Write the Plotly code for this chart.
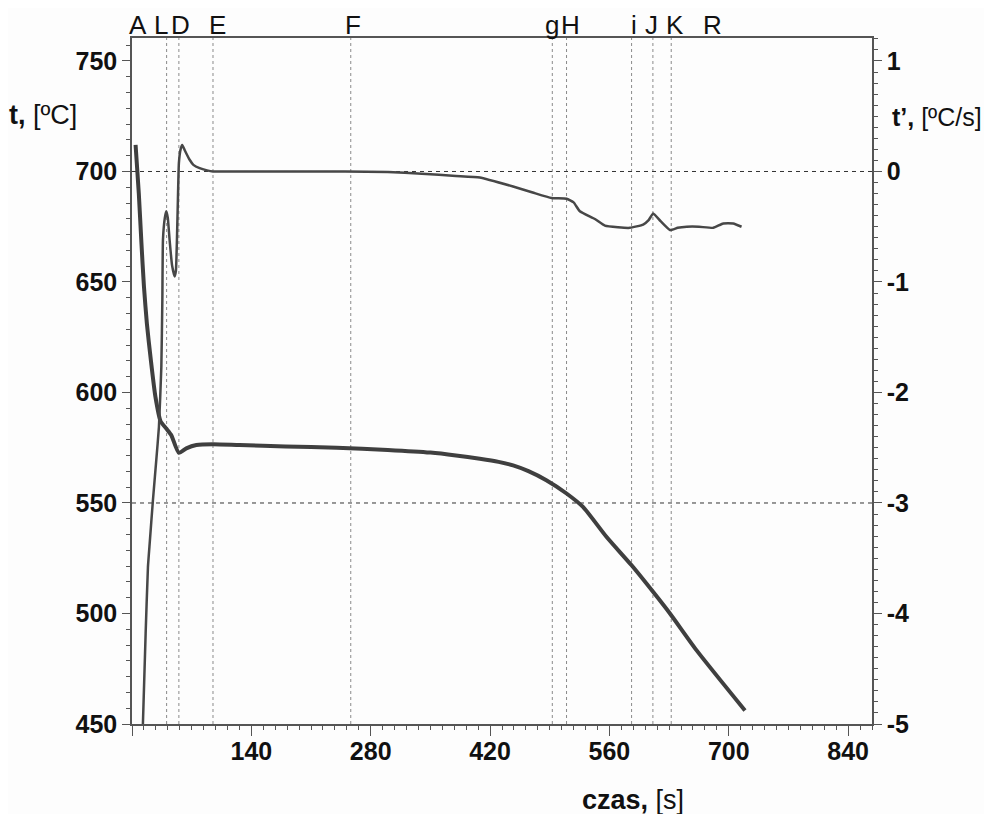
import plotly.graph_objects as go

# temperature curve t [oC] vs time [s]
temp_time = [4.2, 8, 11, 14, 17.5, 22, 27.5, 33.5, 40.2, 46.1, 55, 63.7, 75.5, 95, 126,
             180, 240, 300, 350, 380, 408, 430, 447, 465, 486, 509.7, 529, 556.7, 586, 611.4,
             631, 662.3, 719]
temp = [712, 690, 668, 648, 631, 615, 598, 587, 583.7, 580.7, 572.7, 574.7, 576.2, 576.6, 576.2,
        575.6, 575, 574, 572.8, 571.5, 570, 568.6, 567, 564.4, 560.3, 554.3, 548.2, 534.6, 521.8,
        509.7, 500, 483.3, 456.1]

# derivative t' [oC/s] vs time [s]
rate_time = [12.8, 16, 18.7, 20.7, 24.5, 28.5, 31.6, 34.4, 35.6, 36.3, 38.5, 40.2, 42, 44.1, 47, 50,
             51.5, 52.7, 54, 55, 57, 59, 62, 67.6, 72, 79.3, 88, 95, 150, 250, 300, 340, 380, 408,
             447, 470, 492, 509.7, 518, 525.3, 543, 554.7, 570, 584, 599.6, 606, 611.4, 620, 631,
             640, 650.6, 665, 681.8, 693.5, 705.3, 715]
rate = [-5, -4.18, -3.58, -3.37, -2.98, -2.61, -2.31, -1.77, -1.16, -0.62, -0.42, -0.36, -0.42, -0.62,
        -0.85, -0.95, -0.9, -0.62, -0.2, 0.076, 0.2, 0.24, 0.19, 0.106, 0.06, 0.03, 0.01, 0, 0, 0,
        -0.005, -0.02, -0.04, -0.054, -0.136, -0.19, -0.24, -0.247, -0.28, -0.36, -0.43, -0.49,
        -0.505, -0.51, -0.48, -0.44, -0.38, -0.45, -0.53, -0.51, -0.5, -0.5, -0.51, -0.47, -0.47, -0.5]

# characteristic points
marker_lines = [40.6, 55, 95, 256.6, 493, 509.7, 586, 611, 632.5]
point_labels = ["A", "L", "D", "E", "F", "g", "H", "i", "J", "K", "R"]
point_label_x = [6.9, 33.6, 57, 100.8, 259.3, 492.1, 514.4, 588.7, 609.5, 636.9, 680.6]

x_ticks = [0, 140, 280, 420, 560, 700, 840]
t_ticks = [450, 500, 550, 600, 650, 700, 750]
r_ticks = [-5, -4, -3, -2, -1, 0, 1]
ref_temps = [700, 550]

FONT = "Liberation Sans, Arial, sans-serif"
dark = "#3f3f3f"
ink = "#111111"

fig = go.Figure()
fig.add_trace(go.Scatter(x=temp_time, y=temp, mode="lines",
                         line=dict(color=dark, width=4, shape="spline", smoothing=0.6)))
fig.add_trace(go.Scatter(x=rate_time, y=rate, mode="lines", yaxis="y2",
                         line=dict(color="#474747", width=2.5, shape="spline", smoothing=0.4)))

shapes = []
for xv in marker_lines:
    shapes.append(dict(type="line", xref="x", yref="paper", x0=xv, x1=xv, y0=0, y1=1,
                       line=dict(color="#8a8a8a", width=1, dash="dot"), layer="below"))
for yv in ref_temps:
    shapes.append(dict(type="line", xref="paper", yref="y", x0=0, x1=1, y0=yv, y1=yv,
                       line=dict(color="#333333", width=1, dash="4px,4px"), layer="below"))

annotations = []
for lab, xv in zip(point_labels, point_label_x):
    annotations.append(dict(x=xv, y=1, xref="x", yref="paper", text=lab, showarrow=False,
                            xanchor="center", yanchor="bottom", yshift=-4,
                            font=dict(family=FONT, size=26, color=ink)))
annotations.append(dict(x=-0.072, y=0.888, xref="paper", yref="paper", xanchor="right",
                        yanchor="middle", text="<b>t,</b> [ºC]", showarrow=False,
                        font=dict(family=FONT, size=27, color=ink)))
annotations.append(dict(x=1.025, y=0.885, xref="paper", yref="paper", xanchor="left",
                        yanchor="middle", text="<b>t’,</b> [ºC/s]", showarrow=False,
                        font=dict(family=FONT, size=25, color=ink)))
annotations.append(dict(x=0.677, y=-0.111, xref="paper", yref="paper", xanchor="center",
                        yanchor="middle", text="<b>czas,</b> [s]", showarrow=False,
                        font=dict(family=FONT, size=27, color=ink)))

tick_font = dict(family=FONT, size=25, color=ink, weight="bold")
axis_line = dict(showline=True, linecolor="#555555", linewidth=1.5, showgrid=False, zeroline=False)

fig.update_layout(
    width=984, height=806,
    margin=dict(l=124.4, r=120.3, t=30.3, b=90),
    paper_bgcolor="#fdfdfd", plot_bgcolor="#fdfdfd",
    showlegend=False,
    shapes=shapes, annotations=annotations,
    xaxis=dict(range=[0, 868], tickvals=x_ticks, ticktext=[""] + [str(v) for v in x_ticks[1:]],
               ticks="outside", ticklen=10, tickcolor="#555555", tickfont=tick_font,
               ticklabelstandoff=-6, mirror=True,
               minor=dict(dtick=14, tick0=0, ticks="outside", ticklen=4, tickcolor="#555555"),
               **axis_line),
    yaxis=dict(range=[450, 760.4], tickvals=t_ticks, ticks="outside", ticklen=8,
               tickcolor="#555555", tickfont=tick_font,
               minor=dict(dtick=50 / 7, tick0=450, ticks="outside", ticklen=4, tickcolor="#555555"),
               **axis_line),
    yaxis2=dict(range=[-5, 1.208], tickvals=r_ticks, ticktext=[str(v) for v in r_ticks],
                overlaying="y", side="right",
                ticks="outside", ticklen=8, tickcolor="#555555", tickfont=tick_font,
                minor=dict(dtick=0.1, tick0=-5, ticks="outside", ticklen=4, tickcolor="#555555"),
                **axis_line),
)

fig.write_html("out.html")
